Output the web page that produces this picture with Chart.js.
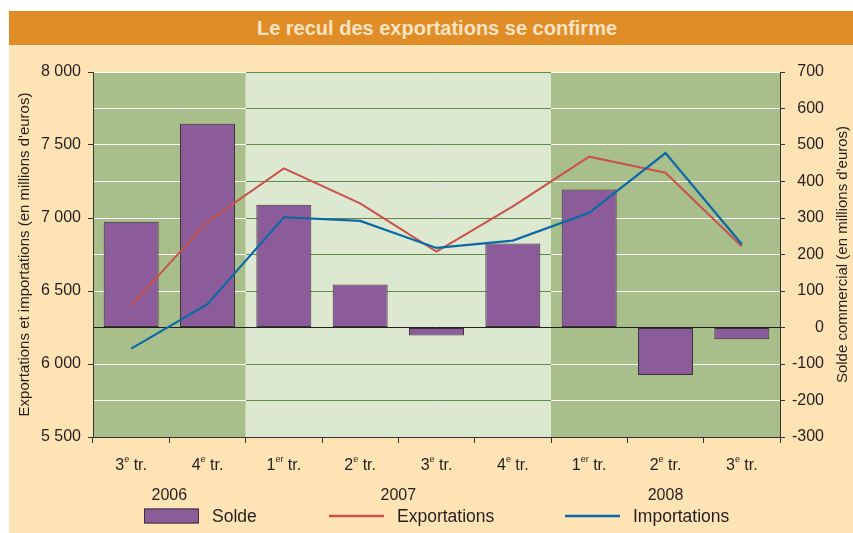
<!DOCTYPE html>
<html lang="fr">
<head>
<meta charset="utf-8">
<script src="https://cdn.jsdelivr.net/npm/chart.js@4.4.1/dist/chart.umd.min.js"></script>
<style>
  body { margin: 0; background: #fff; font-family: "Liberation Sans", Arial, sans-serif; }
  #frame { position: absolute; left: 9px; top: 11px; width: 844px; height: 522px; background: #fee3b5; }
  #title { box-sizing: border-box; height: 34px; padding-left: 12px; background: #e08d28; color: #fbe4c4;
           font-weight: bold; font-size: 20px; line-height: 34px; text-align: center; }
  #wrap { position: relative; width: 844px; height: 488px; }
</style>
</head>
<body>
<div id="frame">
  <div id="title">Le recul des exportations se confirme</div>
  <div id="wrap"><canvas id="chart" width="844" height="488"></canvas></div>
</div>
<script>
// --- Data ---
const categories = ['3e tr.', '4e tr.', '1er tr.', '2e tr.', '3e tr.', '4e tr.', '1er tr.', '2e tr.', '3e tr.'];
const years = ['2006', '2007', '2008'];
const yearFirst = [0, 2, 6];
const yearLast = [1, 5, 8];

const solde = [290, 558, 336, 118, -22, 230, 378, -130, -32];
const exportations = [6400, 6975, 7340, 7100, 6770, 7080, 7420, 7310, 6805];
const importations = [6105, 6410, 7005, 6980, 6795, 6845, 7035, 7445, 6820];

const leftMin = 5500, leftMax = 8000, leftStep = 500;
const rightMin = -300, rightMax = 700, rightStep = 100;

const leftTitle = "Exportations et importations (en millions d'euros)";
const rightTitle = "Solde commercial (en millions d'euros)";

// --- Colours ---
const TEXT = '#231f20';
const DARK_GREEN = '#a8bf8c';
const LIGHT_GREEN = '#dde8d1';
const GRID_ON_LIGHT = '#5f8a4a';
const FONT = '"Liberation Sans", Arial, sans-serif';

function fmtThousands(v) {
  return String(v).replace(/\B(?=(\d{3})+(?!\d))/g, ' ');
}

// band edges: half way between the last category of a year and the first of the next
function bandEdges(chart) {
  const x = chart.scales.x, area = chart.chartArea;
  const edges = [area.left];
  for (let i = 0; i < yearLast.length - 1; i++) {
    edges.push((x.getPixelForValue(yearLast[i]) + x.getPixelForValue(yearFirst[i + 1])) / 2);
  }
  edges.push(area.right);
  return edges;
}

// grid lines: white on the dark bands, green on the light one, black at zero
function gridColor(c) {
  if (c.tick && c.tick.value === 0) return TEXT;
  const chart = c.chart, area = chart.chartArea;
  if (!area || !chart.scales.x) return '#ffffff';
  const e = bandEdges(chart);
  const w = area.right - area.left;
  const f1 = (e[1] - area.left) / w, f2 = (e[2] - area.left) / w;
  const g = chart.ctx.createLinearGradient(area.left, 0, area.right, 0);
  g.addColorStop(0, '#ffffff');
  g.addColorStop(f1, '#ffffff');
  g.addColorStop(f1, GRID_ON_LIGHT);
  g.addColorStop(f2, GRID_ON_LIGHT);
  g.addColorStop(f2, '#ffffff');
  g.addColorStop(1, '#ffffff');
  return g;
}

// --- Custom drawing: year bands, x labels with superscripts, axis titles, legend ---
const decorPlugin = {
  id: 'decor',
  beforeDraw(chart) {
    const { ctx, chartArea: a } = chart;
    const e = bandEdges(chart);
    const fills = [DARK_GREEN, LIGHT_GREEN, DARK_GREEN];
    ctx.save();
    for (let i = 0; i < fills.length; i++) {
      ctx.fillStyle = fills[i];
      ctx.fillRect(e[i], a.top, e[i + 1] - e[i], a.bottom - a.top);
    }
    ctx.restore();
  },
  afterDraw(chart) {
    const { ctx, chartArea: a } = chart;
    const x = chart.scales.x;
    ctx.save();
    ctx.fillStyle = TEXT;
    ctx.textBaseline = 'alphabetic';

    // quarter labels
    const base = a.bottom + 33;
    categories.forEach((lab, i) => {
      const m = lab.match(/^(\d+)(er|e) (.*)$/);
      ctx.font = '16px ' + FONT;
      const w1 = ctx.measureText(m[1]).width;
      const w3 = ctx.measureText(' ' + m[3]).width;
      ctx.font = '9px ' + FONT;
      const w2 = ctx.measureText(m[2]).width;
      let px = x.getPixelForValue(i) - (w1 + w2 + w3) / 2;
      ctx.textAlign = 'left';
      ctx.font = '16px ' + FONT;
      ctx.fillText(m[1], px, base);
      ctx.font = '9px ' + FONT;
      ctx.fillText(m[2], px + w1, base - 8);
      ctx.font = '16px ' + FONT;
      ctx.fillText(' ' + m[3], px + w1 + w2, base);
    });

    // year labels
    ctx.textAlign = 'center';
    ctx.font = '16px ' + FONT;
    years.forEach((y, i) => {
      const cx = (x.getPixelForValue(yearFirst[i]) + x.getPixelForValue(yearLast[i])) / 2;
      ctx.fillText(y, cx, a.bottom + 63);
    });

    // axis titles, both reading bottom to top
    const cy = (a.top + a.bottom) / 2;
    ctx.font = '15px ' + FONT;
    ctx.textBaseline = 'middle';
    ctx.save();
    ctx.translate(16, cy);
    ctx.rotate(-Math.PI / 2);
    ctx.fillText(leftTitle, 0, 0);
    ctx.restore();
    ctx.save();
    ctx.translate(834, cy);
    ctx.rotate(-Math.PI / 2);
    ctx.fillText(rightTitle, 0, 0);
    ctx.restore();

    // legend
    const ds = chart.data.datasets;
    const ly = a.bottom + 79;
    ctx.font = '17.5px ' + FONT;
    ctx.textAlign = 'left';
    ctx.fillStyle = ds[0].backgroundColor;
    ctx.fillRect(135, ly - 7.5, 55, 15);
    ctx.strokeStyle = ds[0].borderColor;
    ctx.lineWidth = 1;
    ctx.strokeRect(135.5, ly - 7, 54, 14);
    ctx.fillStyle = TEXT;
    ctx.fillText(ds[0].label, 203, ly + 1);
    [[1, 320, 388], [2, 556, 624]].forEach(([k, lx, tx]) => {
      ctx.strokeStyle = ds[k].borderColor;
      ctx.lineWidth = 2.5;
      ctx.beginPath();
      ctx.moveTo(lx, ly);
      ctx.lineTo(lx + 55, ly);
      ctx.stroke();
      ctx.fillStyle = TEXT;
      ctx.fillText(ds[k].label, tx, ly + 1);
    });
    ctx.restore();
  }
};

new Chart(document.getElementById('chart'), {
  type: 'bar',
  data: {
    labels: categories,
    datasets: [
      {
        type: 'bar',
        label: 'Solde',
        data: solde,
        yAxisID: 'y1',
        backgroundColor: '#8b5c99',
        borderColor: '#3a3336',
        borderWidth: 1,
        borderSkipped: false,
        barPercentage: 0.72,
        categoryPercentage: 1,
        order: 2
      },
      {
        type: 'line',
        label: 'Exportations',
        data: exportations,
        yAxisID: 'y',
        borderColor: '#c9524b',
        borderWidth: 2,
        pointRadius: 0,
        tension: 0,
        fill: false,
        order: 1
      },
      {
        type: 'line',
        label: 'Importations',
        data: importations,
        yAxisID: 'y',
        borderColor: '#0a69a6',
        borderWidth: 2.2,
        pointRadius: 0,
        tension: 0,
        fill: false,
        order: 0
      }
    ]
  },
  options: {
    responsive: false,
    animation: false,
    // right padding keeps the right-aligned tick labels clear of the axis title
    layout: { padding: { top: 27, left: 0, right: 29, bottom: 0 } },
    plugins: { legend: { display: false }, tooltip: { enabled: false } },
    scales: {
      x: {
        offset: true,
        grid: { display: true, offset: true, drawOnChartArea: false, drawTicks: true, tickLength: 6, color: '#333' },
        border: { display: true, color: '#333', width: 1 },
        ticks: { display: false },
        afterFit(s) { s.height = 96; }
      },
      y: {
        position: 'left',
        min: leftMin,
        max: leftMax,
        grid: { drawOnChartArea: false, drawTicks: true, tickLength: 5, color: '#333' },
        border: { display: true, color: '#333', width: 1 },
        ticks: {
          stepSize: leftStep,
          padding: 7,
          color: TEXT,
          font: { family: FONT, size: 16 },
          callback: v => fmtThousands(v)
        },
        afterFit(s) { s.width = 84; }
      },
      y1: {
        position: 'right',
        min: rightMin,
        max: rightMax,
        grid: { drawOnChartArea: true, drawTicks: true, tickLength: 5, color: gridColor, tickColor: '#333', lineWidth: 1 },
        border: { display: true, color: '#333', width: 1 },
        ticks: {
          stepSize: rightStep,
          padding: 8,
          crossAlign: 'far',
          color: TEXT,
          font: { family: FONT, size: 16 },
          callback: v => String(v)
        },
        afterFit(s) { s.width = 44; }
      }
    }
  },
  plugins: [decorPlugin]
});
</script>
</body>
</html>
